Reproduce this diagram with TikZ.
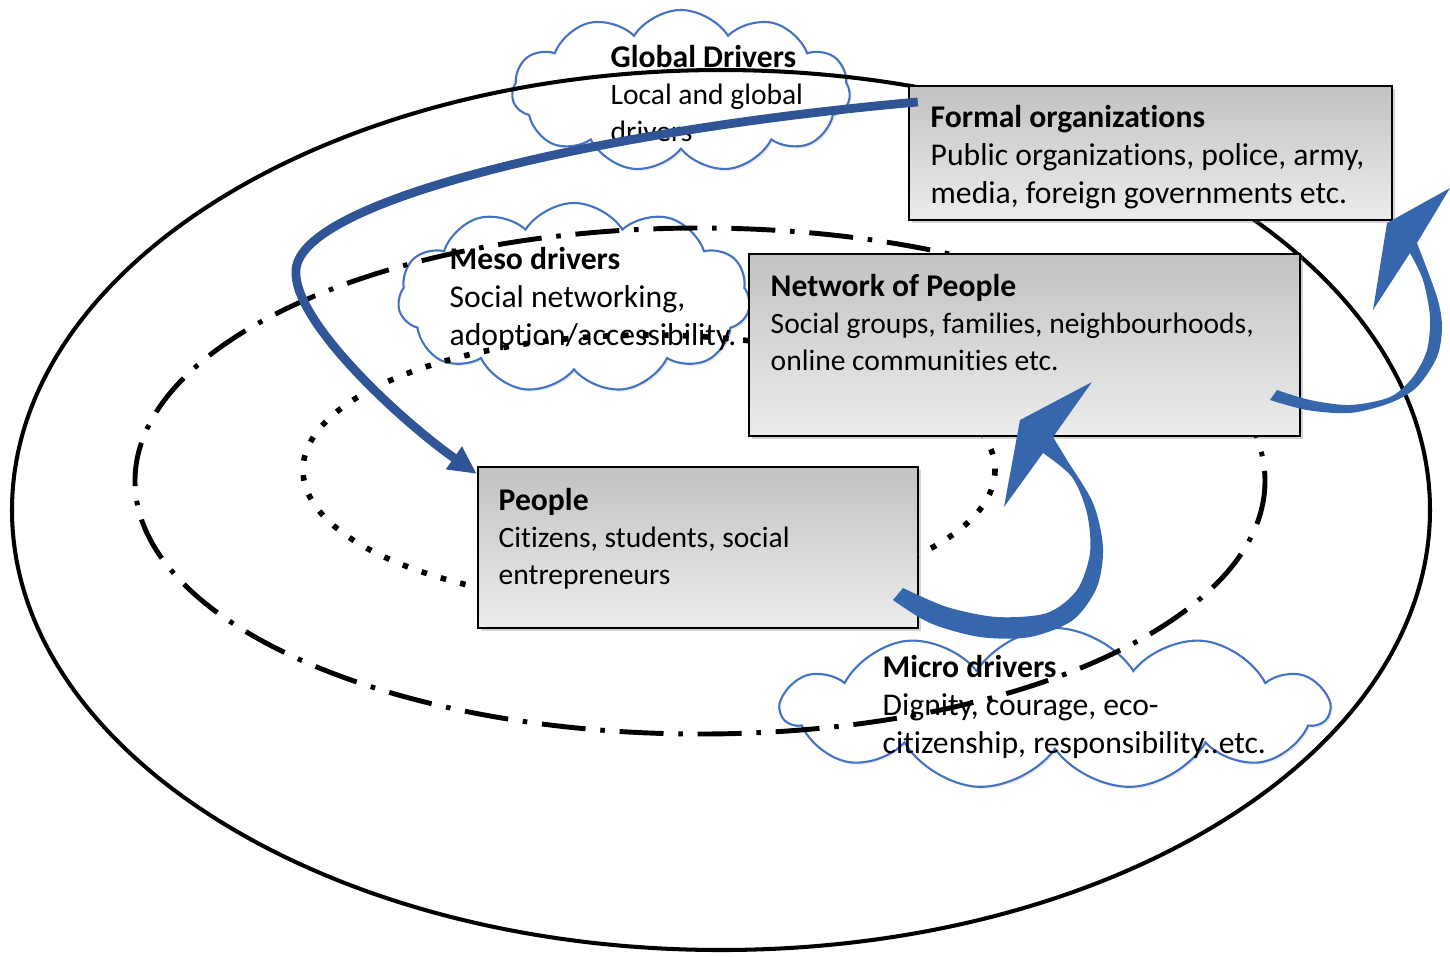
\documentclass[tikz,border=0pt]{standalone}
\usepackage{fontspec}
\setmainfont{Carlito}[Ligatures=NoCommon]
\usetikzlibrary{shapes.symbols,shadows,arrows.meta}
\definecolor{cloudblue}{RGB}{68,114,196}
\definecolor{linkblue}{RGB}{47,85,151}
\definecolor{curlblue}{RGB}{54,103,172}
\definecolor{boxtop}{RGB}{194,194,194}
\definecolor{boxbot}{RGB}{236,236,236}
\newcommand\heading[1]{{\fontsize{9}{10.5}\selectfont\bfseries #1}}

\begin{document}
\begin{tikzpicture}[x=0.01cm, y=-0.01cm,
    driver/.style={cloud, cloud puffs=11, cloud puff arc=115, aspect=2, inner sep=0pt,
      draw=cloudblue, fill=white, line width=0.6pt,
      drop shadow={shadow xshift=0.6pt, shadow yshift=-0.6pt, opacity=0.15}},
    panel/.style={draw, line width=0.6pt, inner sep=0pt, top color=boxtop, bottom color=boxbot,
      drop shadow={shadow xshift=0.9pt, shadow yshift=-0.9pt, opacity=0.35}},
    blurb/.style={anchor=north west, align=left, inner sep=0pt, font=\fontsize{9}{10.8}\selectfont},
    small blurb/.style={blurb, font=\fontsize{8.4}{10.5}\selectfont},
    orbit/.style={line width=1.15pt}]
\useasboundingbox (0,0) rectangle (1450,956);
%
% the three clouds of drivers
\node [driver, minimum width=3.38cm, minimum height=1.62cm] at (681,91) (global) {};
\node [driver, minimum width=3.52cm, minimum height=1.90cm] at (574,298) (meso) {};
\node [driver, minimum width=5.46cm, minimum height=1.62cm] at (1055,709) (micro) {};
%
% levels
\draw[orbit] (721,510) ellipse [x radius=709, y radius=440];
\draw[orbit, line width=1.4pt, dash pattern=on 12.5pt off 4.2pt on 1.3pt off 4.2pt] (700,481) ellipse [x radius=565, y radius=253];
\draw[orbit, line width=1.6pt, dash pattern=on 1.6pt off 4.1pt] (649,470) ellipse [x radius=346, y radius=135];
%
% actors
\node [panel, minimum width=4.83cm, minimum height=1.34cm] at (1150.5,153) (formal) {};
\node [panel, minimum width=5.51cm, minimum height=1.82cm] at (1024.5,345) (network) {};
\node [panel, minimum width=4.40cm, minimum height=1.61cm] at (698,547.5) (people) {};
%
\node [small blurb] at (610,45) (global txt) {\heading{Global Drivers}\\Local and global\\drivers};
\node [blurb] at (449,247) (meso txt) {\textbf{Meso drivers}\\Social networking,\\adoption/accessibility.};
\node [blurb] at (882,655) (micro txt) {\textbf{Micro drivers}\\Dignity, courage, eco-\\citizenship, responsibility..etc.};
\node [blurb] at (930,105) (formal txt) {\textbf{Formal organizations}\\Public organizations, police, army,\\media, foreign governments etc.};
\node [small blurb] at (770,274) (network txt) {\heading{Network of People}\\Social groups, families, neighbourhoods,\\online communities etc.};
\node [small blurb] at (498,488) (people txt) {\heading{People}\\Citizens, students, social\\entrepreneurs};
%
% top-down influence
\draw[line width=2.5pt, linkblue, -{Triangle[length=0.28cm,width=0.26cm]}]
  ([shift={(10,-51)}]formal.west) .. controls (600,130) and (300,200) .. (296,270)
  .. controls (292,320) and (400,420) .. ([shift={(0,8)}]people.north west);
%
% bottom-up curls
\fill[curlblue] plot[smooth] coordinates {(893,600) (930,623) (980,637) (1030,637) (1073,620) (1097,587) (1103,547) (1093,503) (1067,460) (1053,437)}
  -- (1092,382) -- (1020,420) -- (1004,507) --
  plot[smooth] coordinates {(1043,453) (1072,477) (1087,513) (1090,553) (1077,590) (1047,613) (997,617) (947,607) (903,588)} -- cycle;
\fill[curlblue] plot[smooth] coordinates {(1270,400) (1307,410) (1350,413) (1390,403) (1417,387) (1437,357) (1442,327) (1437,297) (1417,243)}
  -- (1450,188) -- (1387,223) -- (1373,310) --
  plot[smooth] coordinates {(1410,253) (1423,280) (1430,317) (1427,350) (1413,377) (1390,397) (1350,405) (1310,400) (1277,390)} -- cycle;

\end{tikzpicture}
\end{document}
